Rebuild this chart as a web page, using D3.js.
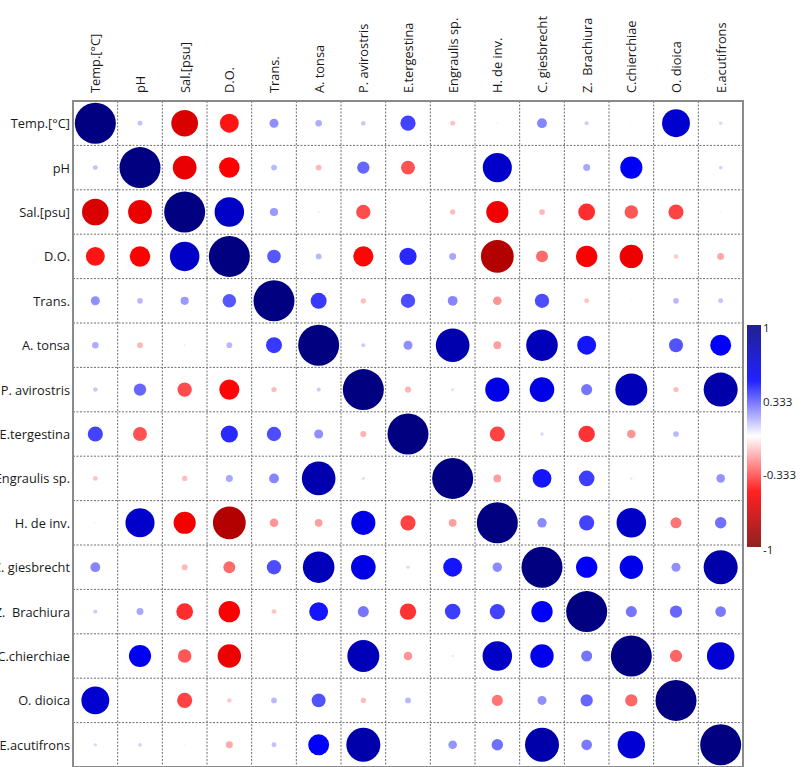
<!DOCTYPE html>
<html lang="en">
<head>
<meta charset="UTF-8">
<title>Correlation plot</title>
<script src="https://d3js.org/d3.v7.min.js"></script>
<style>
  body { margin: 0; background: #fff; }
  text { font-family: "Open Sans", "Noto Sans", sans-serif; fill: #1a1a1a; }
  .lab { font-size: 12.8px; }
  .leg { font-size: 11.5px; }
</style>
</head>
<body>
<div id="chart"></div>
<script>
// variable names (rows and columns)
const vars = ["Temp.[°C]", "pH", "Sal.[psu]", "D.O.", "Trans.", "A. tonsa", "P. avirostris",
  "E.tergestina", "Engraulis sp.", "H. de inv.", "C. giesbrecht", "Z.  Brachiura",
  "C.chierchiae", "O. dioica", "E.acutifrons"];

// lower triangle of the correlation matrix, row i holds r(i, 0..i-1); diagonal is 1
const corrRows = [
  [],
  [0.12],
  [-0.65, -0.58],
  [-0.46, -0.50, 0.72],
  [0.22, 0.14, 0.20, 0.33],
  [0.16, -0.14, -0.05, 0.14, 0.39],
  [0.11, 0.30, -0.35, -0.49, -0.13, 0.10],
  [0.37, -0.34, 0.03, 0.42, 0.35, 0.22, -0.15],
  [-0.12, 0.02, -0.13, 0.17, 0.24, 0.82, -0.08, 0.01],
  [0.04, 0.71, -0.54, -0.80, -0.21, -0.19, 0.59, -0.37, -0.19],
  [0.24, 0.02, -0.14, -0.29, 0.35, 0.77, 0.60, 0.08, 0.46, 0.23],
  [0.10, 0.17, -0.41, -0.52, -0.12, 0.46, 0.27, -0.40, 0.38, 0.37, 0.52],
  [0.03, 0.54, -0.33, -0.57, -0.04, 0.02, 0.78, -0.21, -0.06, 0.72, 0.57, 0.27],
  [0.68, 0.00, -0.37, -0.11, 0.14, 0.34, -0.13, 0.14, 0.01, -0.27, 0.22, 0.30, -0.30],
  [0.08, 0.09, -0.04, -0.17, 0.12, 0.51, 0.83, 0.01, 0.21, 0.28, 0.83, 0.26, 0.67, 0.01]
];

// colour bar
const legendTicks = [1, 0.333, -0.333, -1];
const colorStops = [-1, -0.5, 0, 0.5, 1];
const colorRange = ["#800000", "#ff0000", "#ffffff", "#0000ff", "#000080"];

const W = 803, H = 767;
const svg = d3.select("#chart").append("svg")
  .attr("width", W)
  .attr("height", H);

// build cells (symmetric matrix)
const cells = [];
vars.forEach((rv, i) => {
  vars.forEach((cv, j) => {
    let r;
    if (i === j) r = 1;
    else if (j < i) r = corrRows[i][j];
    else r = corrRows[j][i];
    cells.push({ row: rv, col: cv, r: r });
  });
});

const x = d3.scaleBand().domain(vars).range([73, 743]);
const y = d3.scaleBand().domain(vars).range([101, 767]);
const rScale = d3.scaleLinear().domain([0, 1]).range([0, 20.5]);
const color = d3.scaleLinear().domain(colorStops).range(colorRange);

// dashed grid
const grid = svg.append("g")
  .attr("stroke", "#6e6e6e")
  .attr("stroke-width", 1)
  .attr("stroke-dasharray", "2,1.5");

grid.selectAll(".vline")
  .data(vars.slice(1))
  .enter().append("line")
  .attr("x1", d => x(d)).attr("x2", d => x(d))
  .attr("y1", 101).attr("y2", H);

grid.selectAll(".hline")
  .data(vars.slice(1))
  .enter().append("line")
  .attr("y1", d => y(d)).attr("y2", d => y(d))
  .attr("x1", 73).attr("x2", 743);

// circles
svg.append("g").selectAll("circle")
  .data(cells)
  .enter().append("circle")
  .attr("cx", d => x(d.col) + x.bandwidth() / 2)
  .attr("cy", d => y(d.row) + y.bandwidth() / 2)
  .attr("r", d => rScale(Math.abs(d.r)))
  .attr("fill", d => color(d.r));

// frame
svg.append("rect")
  .attr("x", 73).attr("y", 101)
  .attr("width", 670).attr("height", 666)
  .attr("fill", "none")
  .attr("stroke", "#8a8a8a")
  .attr("stroke-width", 2);

// row labels
svg.append("g").selectAll("text")
  .data(vars)
  .enter().append("text")
  .attr("class", "lab")
  .attr("x", 70)
  .attr("y", d => y(d) + y.bandwidth() / 2)
  .attr("text-anchor", "end")
  .attr("dominant-baseline", "central")
  .style("white-space", "pre")
  .text(d => d);

// column labels (rotated)
svg.append("g").selectAll("text")
  .data(vars)
  .enter().append("text")
  .attr("class", "lab")
  .attr("transform", d => `translate(${x(d) + x.bandwidth() / 2},93) rotate(-90)`)
  .attr("text-anchor", "start")
  .attr("dominant-baseline", "central")
  .style("white-space", "pre")
  .text(d => d);

// colour bar
const barTop = 325, barBottom = 547;
const ly = d3.scaleLinear().domain([1, -1]).range([barTop, barBottom]);

const grad = svg.append("defs").append("linearGradient")
  .attr("id", "cbar")
  .attr("x1", 0).attr("y1", 0).attr("x2", 0).attr("y2", 1);
grad.selectAll("stop")
  .data(colorStops.slice().reverse())
  .enter().append("stop")
  .attr("offset", d => (1 - d) / 2)
  .attr("stop-color", d => color(d));

svg.append("rect")
  .attr("x", 747).attr("y", barTop)
  .attr("width", 14).attr("height", barBottom - barTop)
  .attr("fill", "url(#cbar)")
  .attr("opacity", 0.87);

svg.append("g").selectAll("text")
  .data(legendTicks)
  .enter().append("text")
  .attr("class", "leg")
  .attr("x", 763)
  .attr("y", d => ly(d) + 2)
  .attr("dominant-baseline", "central")
  .text(d => d);
</script>
</body>
</html>
